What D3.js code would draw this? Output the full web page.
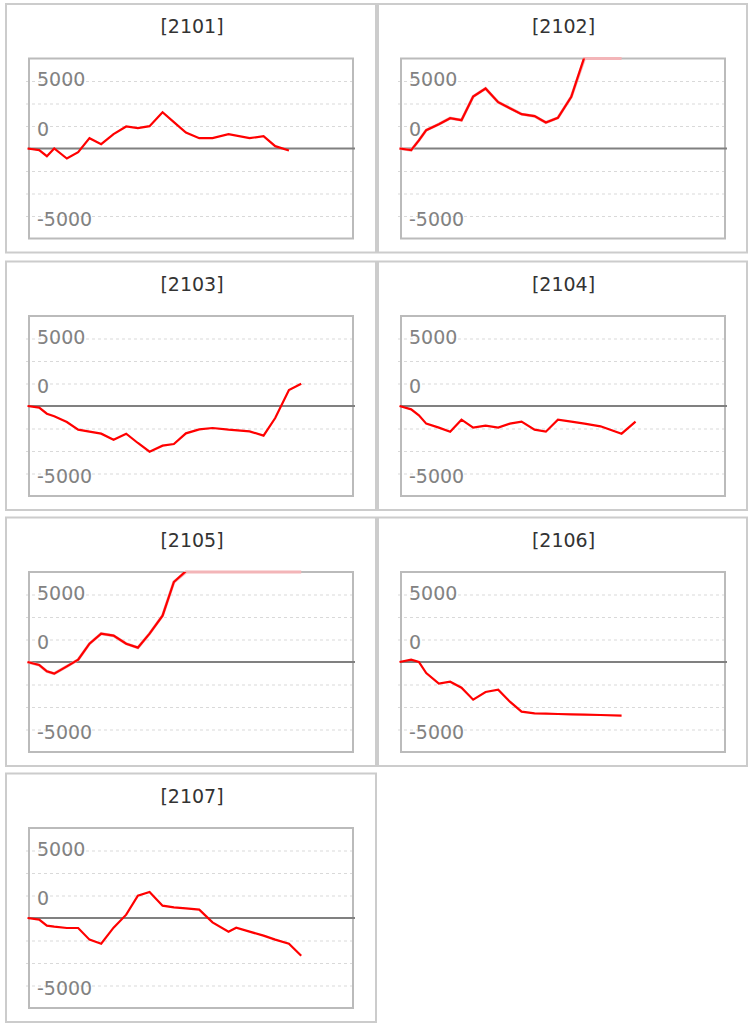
<!DOCTYPE html>
<html>
<head>
<meta charset="utf-8">
<script src="https://cdn.jsdelivr.net/npm/d3@7"></script>
<style>
  html, body { margin: 0; padding: 0; background: #ffffff; }
  svg { display: block; }
</style>
</head>
<body>
<svg id="chart" width="754" height="1026"></svg>
<script>
// ---------- data ----------
const titles = ["[2101]", "[2102]", "[2103]", "[2104]", "[2105]", "[2106]", "[2107]"];
const days = [0, 0.97, 1.61, 2.22, 3.27, 4.21, 5.15, 6.12, 7.15, 8.2, 9.17, 10.14, 11.22, 12.16, 13.16, 14.27, 15.37, 16.7, 18.45, 19.61, 20.58, 21.72, 22.74];
const days2107 = [0, 0.97, 1.61, 2.22, 3.27, 4.21, 5.15, 6.12, 7.15, 8.2, 9.17, 10.14, 11.22, 12.16, 13.16, 14.27, 15.37, 16.7, 17.34, 18.45, 19.61, 20.58, 21.72, 22.74];
const pnl2101 = [0, -185, -852, 0, -1111, -407, 1148, 481, 1593, 2444, 2259, 2481, 4037, 2926, 1778, 1148, 1148, 1593, 1148, 1370, 259, -222];
const pnl2102 = [0, -185, 900, 2037, 2704, 3370, 3148, 5778, 6667, 5148, 4481, 3815, 3593, 2889, 3407, 5741, 10200, 11500, 11000];
const pnl2103 = [0, -185, -852, -1148, -1778, -2630, -2852, -3074, -3741, -3074, -4111, -5074, -4407, -4222, -3037, -2593, -2444, -2630, -2815, -3296, -1333, 1778, 2481];
const pnl2104 = [0, -370, -1037, -1963, -2407, -2852, -1519, -2407, -2185, -2407, -1963, -1741, -2630, -2852, -1519, -1741, -1963, -2259, -3074, -1741];
const pnl2105 = [0, -333, -1037, -1296, -481, 259, 2037, 3148, 2926, 2037, 1593, 3148, 5148, 8889, 10100, 11000, 12000, 12500, 13000, 12000, 12500, 13000, 13500];
const pnl2106 = [0, 259, 0, -1222, -2407, -2185, -2852, -4185, -3333, -3074, -4407, -5519, -5704, -5741, -5778, -5815, -5852, -5889, -5963];
const pnl2107 = [0, -185, -852, -963, -1111, -1111, -2407, -2852, -1074, 370, 2481, 2889, 1370, 1185, 1074, 926, -481, -1519, -1074, -1519, -1963, -2407, -2852, -4185];
const seriesValues = [pnl2101, pnl2102, pnl2103, pnl2104, pnl2105, pnl2106, pnl2107];
const seriesDays = [days, days, days, days, days, days, days2107];

const yDomain = [-10000, 10000];
const xDomain = [0, 27];
const gridValues = [-7500, -5000, -2500, 2500, 5000, 7500];
const tickLabels = ["5000", "0", "-5000"];
const tickLabelAt = [7700, 2200, -7800];

// ---------- layout ----------
const colX = [6, 378];
const colW = [370, 369];
const rowY = [4, 261.5, 517.5, 773.5];
const panelH = 248.5;
const plotOffX = 23, plotOffY = 54.5, plotW = 324, plotH = 180;

const svg = d3.select("#chart");
const FONT = "'DejaVu Sans', Verdana, sans-serif";

titles.forEach((title, i) => {
  const col = i % 2, row = Math.floor(i / 2);
  const px = colX[col], py = rowY[row], pw = colW[col];
  const g = svg.append("g");

  g.append("rect")
    .attr("x", px).attr("y", py).attr("width", pw).attr("height", panelH)
    .attr("fill", "none").attr("stroke", "#cccccc").attr("stroke-width", 2);

  g.append("text")
    .attr("x", px + pw / 2 + 1).attr("y", py + 29)
    .attr("text-anchor", "middle")
    .attr("font-family", FONT).attr("font-size", 19)
    .attr("fill", "#333333")
    .text(title);

  const x0 = px + plotOffX, x1 = x0 + plotW, y0 = py + plotOffY, y1 = y0 + plotH;
  const y = d3.scaleLinear().domain(yDomain).range([y1, y0]);
  const x = d3.scaleLinear().domain(xDomain).range([x0 - 1.5, x0 - 1.5 + plotW + 1]);

  // dashed gridlines via axis
  const grid = g.append("g")
    .attr("transform", `translate(${x0 - 3},0)`)
    .call(d3.axisLeft(y).tickValues(gridValues).tickSize(-(plotW + 3)).tickFormat(""));
  grid.select(".domain").remove();
  grid.selectAll(".tick line")
    .attr("stroke", "#d9d9d9").attr("stroke-width", 1).attr("stroke-dasharray", "3,3");

  // tick labels
  g.selectAll("text.lbl").data(tickLabels).enter().append("text")
    .attr("class", "lbl")
    .attr("x", x0 + 8)
    .attr("y", (d, j) => y(tickLabelAt[j]))
    .attr("dy", "0.36em")
    .attr("font-family", FONT).attr("font-size", 19)
    .attr("fill", "#828282")
    .text(d => d);

  // plot frame
  g.append("rect")
    .attr("x", x0).attr("y", y0).attr("width", plotW).attr("height", plotH)
    .attr("fill", "none").attr("stroke", "#bbbbbb").attr("stroke-width", 2);

  // zero line
  g.append("line")
    .attr("x1", x0 - 1).attr("x2", x1 + 2)
    .attr("y1", y(0)).attr("y2", y(0))
    .attr("stroke", "#808080").attr("stroke-width", 2);

  const pts = seriesValues[i].map((v, k) => [seriesDays[i][k], v]);
  const clampV = v => Math.max(yDomain[0], Math.min(yDomain[1], v));

  // out-of-range part, faded along the frame
  const hasOverflow = pts.some(p => p[1] > yDomain[1] || p[1] < yDomain[0]);
  if (hasOverflow) {
    g.append("path")
      .datum(pts)
      .attr("fill", "none").attr("stroke", "#f3b5b8").attr("stroke-width", 3)
      .attr("d", d3.line().x(d => x(d[0])).y(d => y(clampV(d[1]))));
  }

  const clipId = "clip" + i;
  svg.append("clipPath").attr("id", clipId)
    .append("rect").attr("x", x0 - 4).attr("y", y0).attr("width", plotW + 4).attr("height", plotH);

  g.append("path")
    .datum(pts)
    .attr("clip-path", `url(#${clipId})`)
    .attr("fill", "none").attr("stroke", "#ff0000").attr("stroke-width", 2.2)
    .attr("d", d3.line().x(d => x(d[0])).y(d => y(d[1])));
});
</script>
</body>
</html>
